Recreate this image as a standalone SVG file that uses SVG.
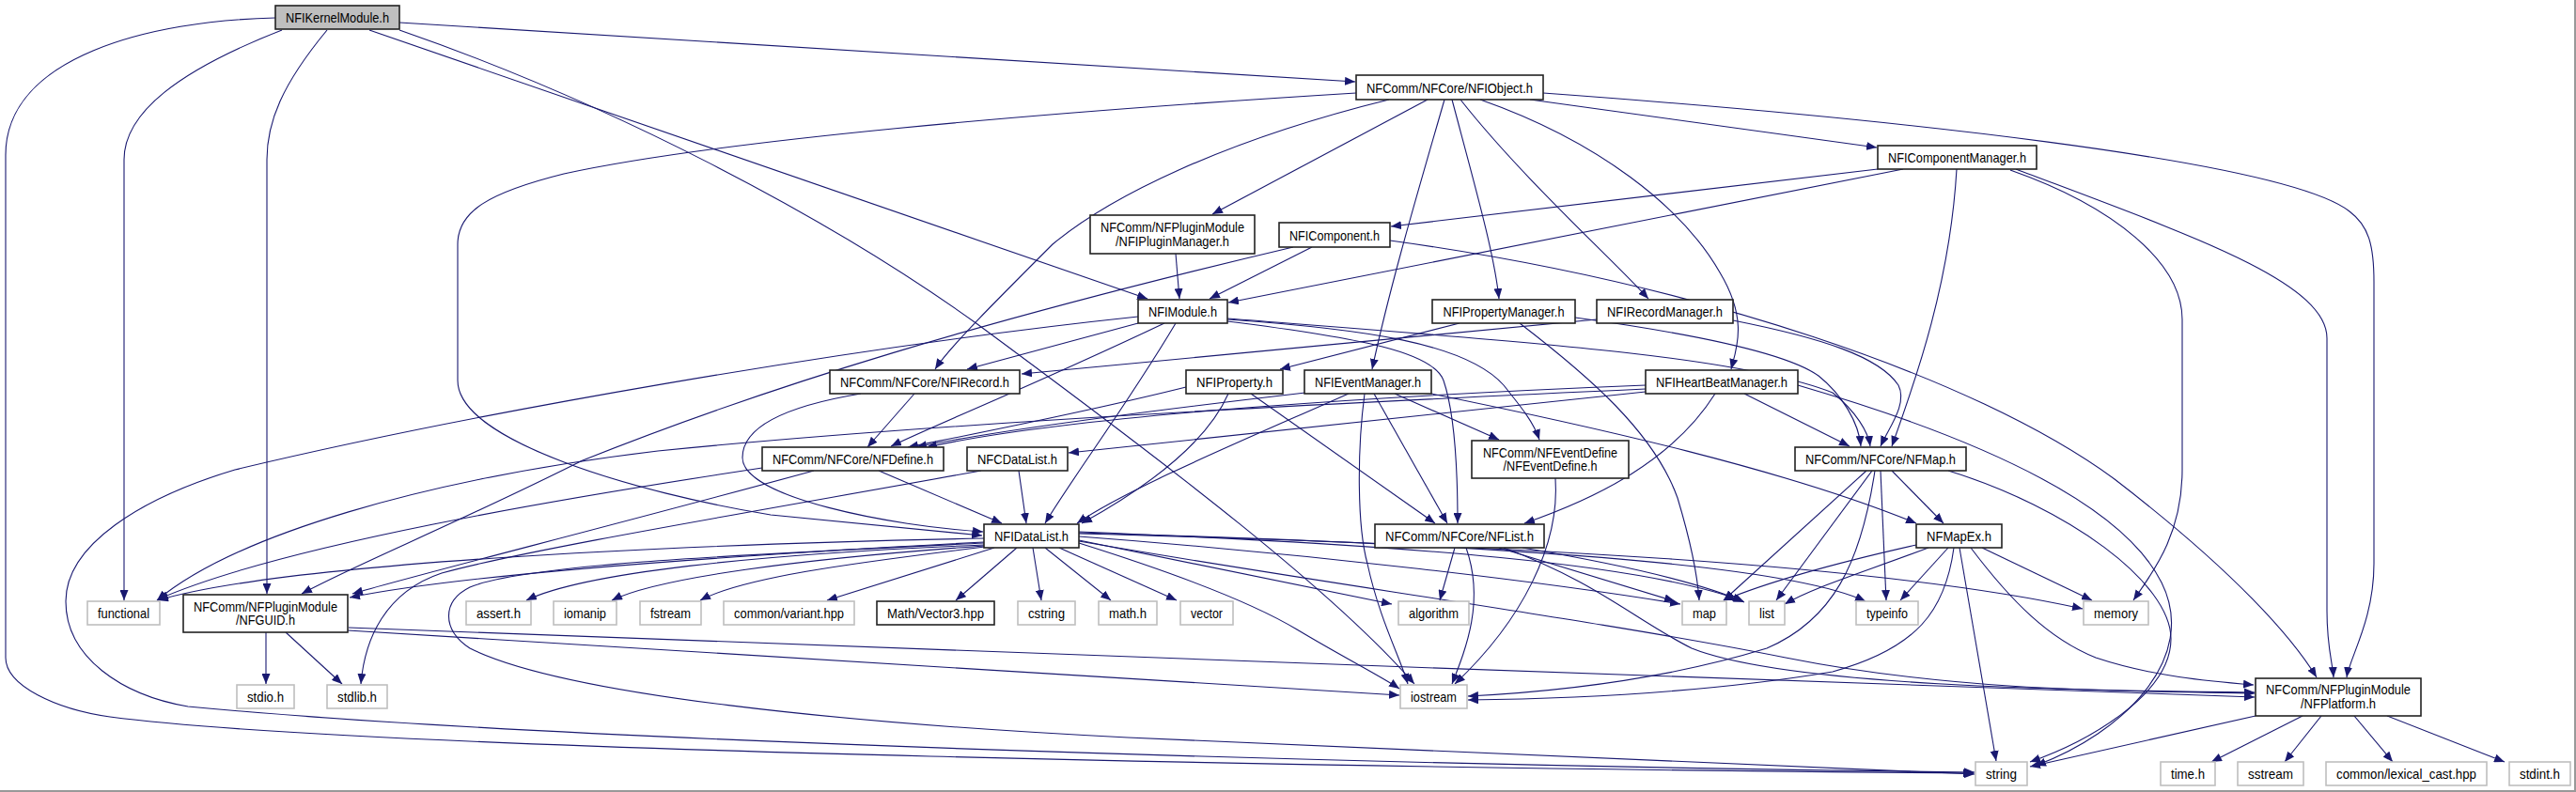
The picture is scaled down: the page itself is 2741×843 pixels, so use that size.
<svg xmlns="http://www.w3.org/2000/svg" width="2741" height="843" viewBox="0 0 2741 843">
<style>
.e{fill:none;stroke:#191970;stroke-width:1.1;marker-end:url(#a)}
.n rect{fill:#fff;stroke:#222;stroke-width:1.6}
.g rect{fill:#fff;stroke:#bfbfbf;stroke-width:1.6}
.r rect{fill:#bfbfbf;stroke:#222;stroke-width:1.6}
text{font-family:"Liberation Sans",Arial,sans-serif;font-size:15px;fill:#000;text-anchor:middle}
</style>
<defs>
<marker id="a" viewBox="0 0 11 9" refX="11" refY="4.5" markerWidth="11" markerHeight="9" markerUnits="userSpaceOnUse" orient="auto"><path d="M0,0 L11,4.5 L0,9 z" fill="#191970"/></marker>
</defs>
<rect x="0" y="0" width="2741" height="843" fill="#fff"/>
<line x1="2740" y1="0" x2="2740" y2="843" stroke="#999" stroke-width="2"/>
<line x1="0" y1="842" x2="2741" y2="842" stroke="#999" stroke-width="2"/>
<g id="edges">
<path class="e" d="M293,19 C160,22 6,60 6,165 L6,700 C6,730 60,755 117,763 C400,800 1500,818 2100,823"/>
<path class="e" d="M300,32 C190,75 132,120 132,170 L132,639"/>
<path class="e" d="M348,32 C300,90 284,130 284,170 L284,632"/>
<path class="e" d="M393,32 L1221,318"/>
<path class="e" d="M425,32 C650,110 880,230 1040,345 C1250,500 1420,630 1505,728"/>
<path class="e" d="M425,24 L1442,87"/>
<path class="e" d="M1443,99 C1100,120 760,150 600,185 C520,205 487,225 487,260 L487,405 C487,470 680,525 820,548 L1045,570"/>
<path class="e" d="M1478,106 C1300,150 1180,210 1120,260 C1060,320 1010,370 995,393"/>
<path class="e" d="M1519,106 L1290,228"/>
<path class="e" d="M1537,106 C1510,200 1480,300 1460,393"/>
<path class="e" d="M1545,106 C1570,200 1590,270 1595,318"/>
<path class="e" d="M1554,106 C1620,190 1720,280 1754,318"/>
<path class="e" d="M1575,106 C1700,150 1790,220 1830,290 C1860,340 1848,370 1842,393"/>
<path class="e" d="M1628,106 L1997,157"/>
<path class="e" d="M1642,99 C2000,125 2430,170 2500,225 C2520,240 2526,260 2526,300 L2526,600 C2526,660 2500,700 2497,721"/>
<path class="e" d="M1998,180 L1480,241"/>
<path class="e" d="M2025,180 L1307,322"/>
<path class="e" d="M2082,180 C2075,300 2040,400 2013,475"/>
<path class="e" d="M2139,181 C2250,220 2322,280 2322,340 L2322,500 C2322,570 2290,610 2270,639"/>
<path class="e" d="M2145,180 C2330,250 2476,300 2476,360 L2476,650 C2476,690 2482,705 2483,721"/>
<path class="e" d="M1251,270 L1255,318"/>
<path class="e" d="M1396,263 L1287,318"/>
<path class="e" d="M1376,263 C1050,340 820,410 620,490 C480,560 380,600 321,632"/>
<path class="e" d="M1479,256 C1800,300 2100,400 2250,510 C2380,610 2440,680 2465,721"/>
<path class="e" d="M1211,337 C900,370 500,440 250,500 C150,530 70,580 70,640 C70,700 130,740 200,752 C600,790 1500,815 2101,822"/>
<path class="e" d="M1211,344 L1029,393"/>
<path class="e" d="M1239,344 C1100,410 1000,450 948,475"/>
<path class="e" d="M1251,344 C1200,430 1140,510 1112,557"/>
<path class="e" d="M1306,339 C1600,362 1850,378 1950,418 C1975,438 1988,460 1990,475"/>
<path class="e" d="M1306,342 C1450,360 1525,375 1536,405 C1548,440 1551,500 1551,557"/>
<path class="e" d="M1306,340 C1450,350 1560,365 1600,410 C1620,435 1632,450 1638,468"/>
<path class="e" d="M1553,344 L1362,393"/>
<path class="e" d="M1617,344 C1690,400 1760,460 1785,530 C1800,580 1806,610 1808,639"/>
<path class="e" d="M1676,338 C1800,355 1900,375 1935,400 C1960,420 1978,450 1980,475"/>
<path class="e" d="M1699,340 L1087,398"/>
<path class="e" d="M1844,341 C1940,360 2000,380 2020,410 C2030,430 2010,455 2001,475"/>
<path class="e" d="M1262,412 C1150,440 1020,465 966,476"/>
<path class="e" d="M1307,419 C1280,480 1200,530 1151,557"/>
<path class="e" d="M1331,419 L1527,557"/>
<path class="e" d="M1389,418 C1200,440 1050,460 975,476"/>
<path class="e" d="M1435,419 C1320,470 1200,520 1146,557"/>
<path class="e" d="M1462,419 L1540,557"/>
<path class="e" d="M1484,419 L1595,468"/>
<path class="e" d="M1452,419 C1444,480 1444,560 1455,600 C1468,660 1490,700 1498,728"/>
<path class="e" d="M1523,419 C1700,455 1900,500 2039,557"/>
<path class="e" d="M1751,410 C1500,420 1150,440 986,476"/>
<path class="e" d="M1751,414 C1400,430 1000,450 700,480 C450,510 250,570 167,639"/>
<path class="e" d="M1751,417 L1137,482"/>
<path class="e" d="M1825,419 C1780,490 1700,530 1622,557"/>
<path class="e" d="M1856,419 L1968,475"/>
<path class="e" d="M1913,410 C2050,450 2250,520 2300,620 C2340,700 2260,780 2166,815"/>
<path class="e" d="M935,501 L1066,557"/>
<path class="e" d="M811,498 C600,530 300,580 168,638"/>
<path class="e" d="M866,501 C650,560 450,610 375,632"/>
<path class="e" d="M1084,501 L1092,557"/>
<path class="e" d="M1044,501 C800,545 560,585 470,610 C410,630 388,680 384,728"/>
<path class="e" d="M1047,573 C700,580 300,600 168,639"/>
<path class="e" d="M1047,577 C800,590 500,610 372,636"/>
<path class="e" d="M1047,580 C800,590 620,610 560,639"/>
<path class="e" d="M1047,581 C850,595 700,615 651,639"/>
<path class="e" d="M1048,582 C900,600 790,615 745,639"/>
<path class="e" d="M1058,583 L880,639"/>
<path class="e" d="M1082,583 L1017,639"/>
<path class="e" d="M1099,583 L1108,639"/>
<path class="e" d="M1112,583 L1182,639"/>
<path class="e" d="M1127,583 L1252,639"/>
<path class="e" d="M1148,575 L1481,643"/>
<path class="e" d="M1148,571 C1400,590 1650,620 1788,643"/>
<path class="e" d="M1148,566 C1500,580 1750,600 1855,640"/>
<path class="e" d="M1148,567 C1600,580 1900,600 1985,640"/>
<path class="e" d="M1148,568 C1600,580 2000,600 2216,648"/>
<path class="e" d="M1148,578 C1250,610 1330,640 1380,670 C1430,700 1470,720 1489,733"/>
<path class="e" d="M1148,576 C1400,620 1700,660 1900,700 C2100,740 2300,735 2399,738"/>
<path class="e" d="M1047,578 C800,590 560,600 500,625 C470,640 470,670 500,690 C600,740 900,770 1200,785 C1600,805 1900,818 2101,824"/>
<path class="e" d="M283,673 L283,728"/>
<path class="e" d="M304,673 L364,728"/>
<path class="e" d="M370,671 C800,700 1200,720 1489,740"/>
<path class="e" d="M371,668 C900,690 1800,720 2399,742"/>
<path class="e" d="M1655,509 C1660,580 1620,660 1548,728"/>
<path class="e" d="M1548,583 L1532,639"/>
<path class="e" d="M1560,583 C1580,640 1560,690 1545,728"/>
<path class="e" d="M1595,583 L1782,640"/>
<path class="e" d="M1620,583 C1720,600 1810,620 1856,641"/>
<path class="e" d="M1600,583 C1700,620 1740,660 1800,690 C1900,730 2200,735 2399,737"/>
<path class="e" d="M1986,501 L1834,639"/>
<path class="e" d="M1992,501 L1890,639"/>
<path class="e" d="M2001,501 L2007,639"/>
<path class="e" d="M2013,501 L2068,557"/>
<path class="e" d="M2073,501 C2200,540 2310,620 2310,680 C2310,740 2220,790 2160,811"/>
<path class="e" d="M1995,501 C1980,600 1950,660 1880,690 C1750,730 1620,738 1562,741"/>
<path class="e" d="M2039,580 C1950,600 1880,620 1834,639"/>
<path class="e" d="M2052,583 C1980,610 1930,625 1899,643"/>
<path class="e" d="M2073,583 L2022,639"/>
<path class="e" d="M2109,583 L2226,639"/>
<path class="e" d="M2085,583 L2124,810"/>
<path class="e" d="M2097,583 C2140,640 2180,680 2230,700 C2290,720 2350,725 2398,729"/>
<path class="e" d="M2079,583 C2070,650 2040,690 1950,715 C1800,740 1650,744 1562,745"/>
<path class="e" d="M2400,762 L2160,816"/>
<path class="e" d="M2450,762 L2353,811"/>
<path class="e" d="M2470,762 L2431,811"/>
<path class="e" d="M2505,762 L2546,811"/>
<path class="e" d="M2540,762 L2665,811"/>
<path class="e" d="M973,419 L923,476"/>
<path class="e" d="M916,419 C850,430 790,450 790,487 C790,530 950,560 1046,566"/>
</g>
<g id="n_km" class="r"><rect x="293" y="6" width="132" height="25"/><text x="359" y="24" textLength="110" lengthAdjust="spacingAndGlyphs">NFIKernelModule.h</text></g>
<g id="n_obj" class="n"><rect x="1443" y="80" width="199" height="26"/><text x="1542.5" y="98.5" textLength="177" lengthAdjust="spacingAndGlyphs">NFComm/NFCore/NFIObject.h</text></g>
<g id="n_cm" class="n"><rect x="1998" y="155" width="169" height="25"/><text x="2082.5" y="173" textLength="147" lengthAdjust="spacingAndGlyphs">NFIComponentManager.h</text></g>
<g id="n_pm" class="n"><rect x="1160" y="229" width="175" height="41"/><text x="1247.5" y="247" textLength="153" lengthAdjust="spacingAndGlyphs">NFComm/NFPluginModule</text><text x="1247.5" y="262" textLength="121" lengthAdjust="spacingAndGlyphs">/NFIPluginManager.h</text></g>
<g id="n_comp" class="n"><rect x="1361" y="237" width="118" height="26"/><text x="1420" y="255.5" textLength="96" lengthAdjust="spacingAndGlyphs">NFIComponent.h</text></g>
<g id="n_mod" class="n"><rect x="1211" y="319" width="95" height="25"/><text x="1258.5" y="337" textLength="73" lengthAdjust="spacingAndGlyphs">NFIModule.h</text></g>
<g id="n_propm" class="n"><rect x="1524" y="319" width="152" height="25"/><text x="1600" y="337" textLength="129" lengthAdjust="spacingAndGlyphs">NFIPropertyManager.h</text></g>
<g id="n_recm" class="n"><rect x="1699" y="319" width="145" height="25"/><text x="1771.5" y="337" textLength="123" lengthAdjust="spacingAndGlyphs">NFIRecordManager.h</text></g>
<g id="n_rec" class="n"><rect x="883" y="394" width="202" height="25"/><text x="984" y="412" textLength="180" lengthAdjust="spacingAndGlyphs">NFComm/NFCore/NFIRecord.h</text></g>
<g id="n_prop" class="n"><rect x="1262" y="394" width="103" height="25"/><text x="1313.5" y="412" textLength="81" lengthAdjust="spacingAndGlyphs">NFIProperty.h</text></g>
<g id="n_evm" class="n"><rect x="1388" y="394" width="135" height="25"/><text x="1455.5" y="412" textLength="113" lengthAdjust="spacingAndGlyphs">NFIEventManager.h</text></g>
<g id="n_hbm" class="n"><rect x="1751" y="394" width="162" height="25"/><text x="1832" y="412" textLength="140" lengthAdjust="spacingAndGlyphs">NFIHeartBeatManager.h</text></g>
<g id="n_def" class="n"><rect x="811" y="476" width="193" height="25"/><text x="907.5" y="494" textLength="171" lengthAdjust="spacingAndGlyphs">NFComm/NFCore/NFDefine.h</text></g>
<g id="n_cdl" class="n"><rect x="1029" y="476" width="107" height="25"/><text x="1082.5" y="494" textLength="85" lengthAdjust="spacingAndGlyphs">NFCDataList.h</text></g>
<g id="n_evd" class="n"><rect x="1566" y="469" width="167" height="40"/><text x="1649.5" y="486.5" textLength="143" lengthAdjust="spacingAndGlyphs">NFComm/NFEventDefine</text><text x="1649.5" y="501" textLength="100" lengthAdjust="spacingAndGlyphs">/NFEventDefine.h</text></g>
<g id="n_map" class="n"><rect x="1910" y="476" width="182" height="25"/><text x="2001" y="494" textLength="160" lengthAdjust="spacingAndGlyphs">NFComm/NFCore/NFMap.h</text></g>
<g id="n_idl" class="n"><rect x="1047" y="558" width="101" height="25"/><text x="1097.5" y="576" textLength="79" lengthAdjust="spacingAndGlyphs">NFIDataList.h</text></g>
<g id="n_list" class="n"><rect x="1463" y="558" width="180" height="25"/><text x="1553" y="576" textLength="158" lengthAdjust="spacingAndGlyphs">NFComm/NFCore/NFList.h</text></g>
<g id="n_mapex" class="n"><rect x="2039" y="558" width="91" height="25"/><text x="2084.5" y="576" textLength="69" lengthAdjust="spacingAndGlyphs">NFMapEx.h</text></g>
<g id="n_functional" class="g"><rect x="93" y="640" width="77" height="25"/><text x="131.5" y="658" textLength="55" lengthAdjust="spacingAndGlyphs">functional</text></g>
<g id="n_guid" class="n"><rect x="195" y="633" width="175" height="40"/><text x="282.5" y="650.5" textLength="153" lengthAdjust="spacingAndGlyphs">NFComm/NFPluginModule</text><text x="282.5" y="664.5" textLength="63" lengthAdjust="spacingAndGlyphs">/NFGUID.h</text></g>
<g id="n_assert" class="g"><rect x="496" y="640" width="69" height="25"/><text x="530.5" y="658" textLength="47" lengthAdjust="spacingAndGlyphs">assert.h</text></g>
<g id="n_iomanip" class="g"><rect x="589" y="640" width="67" height="25"/><text x="622.5" y="658" textLength="45" lengthAdjust="spacingAndGlyphs">iomanip</text></g>
<g id="n_fstream" class="g"><rect x="681" y="640" width="65" height="25"/><text x="713.5" y="658" textLength="43" lengthAdjust="spacingAndGlyphs">fstream</text></g>
<g id="n_variant" class="g"><rect x="770" y="640" width="139" height="25"/><text x="839.5" y="658" textLength="117" lengthAdjust="spacingAndGlyphs">common/variant.hpp</text></g>
<g id="n_vec3" class="n"><rect x="933" y="640" width="125" height="25"/><text x="995.5" y="658" textLength="103" lengthAdjust="spacingAndGlyphs">Math/Vector3.hpp</text></g>
<g id="n_cstring" class="g"><rect x="1083" y="640" width="61" height="25"/><text x="1113.5" y="658" textLength="39" lengthAdjust="spacingAndGlyphs">cstring</text></g>
<g id="n_math" class="g"><rect x="1169" y="640" width="62" height="25"/><text x="1200" y="658" textLength="40" lengthAdjust="spacingAndGlyphs">math.h</text></g>
<g id="n_vector" class="g"><rect x="1256" y="640" width="56" height="25"/><text x="1284" y="658" textLength="34" lengthAdjust="spacingAndGlyphs">vector</text></g>
<g id="n_algorithm" class="g"><rect x="1488" y="640" width="75" height="25"/><text x="1525.5" y="658" textLength="53" lengthAdjust="spacingAndGlyphs">algorithm</text></g>
<g id="n_stdmap" class="g"><rect x="1790" y="640" width="47" height="25"/><text x="1813.5" y="658" textLength="25" lengthAdjust="spacingAndGlyphs">map</text></g>
<g id="n_stdlist" class="g"><rect x="1861" y="640" width="38" height="25"/><text x="1880" y="658" textLength="16" lengthAdjust="spacingAndGlyphs">list</text></g>
<g id="n_typeinfo" class="g"><rect x="1975" y="640" width="66" height="25"/><text x="2008" y="658" textLength="44" lengthAdjust="spacingAndGlyphs">typeinfo</text></g>
<g id="n_memory" class="g"><rect x="2217" y="640" width="69" height="25"/><text x="2251.5" y="658" textLength="47" lengthAdjust="spacingAndGlyphs">memory</text></g>
<g id="n_plat" class="n"><rect x="2400" y="722" width="176" height="40"/><text x="2488" y="739" textLength="154" lengthAdjust="spacingAndGlyphs">NFComm/NFPluginModule</text><text x="2488" y="753.5" textLength="80" lengthAdjust="spacingAndGlyphs">/NFPlatform.h</text></g>
<g id="n_stdio" class="g"><rect x="252" y="729" width="61" height="25"/><text x="282.5" y="747" textLength="39" lengthAdjust="spacingAndGlyphs">stdio.h</text></g>
<g id="n_stdlib" class="g"><rect x="348" y="729" width="64" height="25"/><text x="380" y="747" textLength="42" lengthAdjust="spacingAndGlyphs">stdlib.h</text></g>
<g id="n_iostream" class="g"><rect x="1490" y="729" width="71" height="25"/><text x="1525.5" y="747" textLength="49" lengthAdjust="spacingAndGlyphs">iostream</text></g>
<g id="n_string" class="g"><rect x="2102" y="811" width="55" height="25"/><text x="2129.5" y="829" textLength="33" lengthAdjust="spacingAndGlyphs">string</text></g>
<g id="n_time" class="g"><rect x="2299" y="811" width="58" height="25"/><text x="2328" y="829" textLength="36" lengthAdjust="spacingAndGlyphs">time.h</text></g>
<g id="n_sstream" class="g"><rect x="2381" y="811" width="70" height="25"/><text x="2416" y="829" textLength="48" lengthAdjust="spacingAndGlyphs">sstream</text></g>
<g id="n_lexcast" class="g"><rect x="2475" y="811" width="171" height="25"/><text x="2560.5" y="829" textLength="149" lengthAdjust="spacingAndGlyphs">common/lexical_cast.hpp</text></g>
<g id="n_stdint" class="g"><rect x="2670" y="811" width="65" height="25"/><text x="2702.5" y="829" textLength="43" lengthAdjust="spacingAndGlyphs">stdint.h</text></g>
</svg>
